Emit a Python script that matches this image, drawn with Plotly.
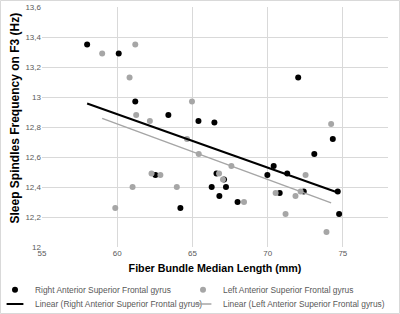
import numpy as np
import plotly.graph_objects as go

# Right Anterior Superior Frontal gyrus
right_x = [58.0, 60.1, 61.2, 63.4, 65.4, 66.46, 72.03, 62.54, 64.2, 74.33, 73.1, 70.4,
           69.98, 71.3, 66.6, 67.1, 66.28, 67.23, 66.79, 68.0, 70.8, 72.4, 74.66, 74.75]
right_y = [13.35, 13.29, 12.97, 12.88, 12.84, 12.83, 13.13, 12.48, 12.26, 12.72, 12.62, 12.54,
           12.48, 12.49, 12.49, 12.45, 12.40, 12.40, 12.34, 12.30, 12.36, 12.37, 12.37, 12.22]

# Left Anterior Superior Frontal gyrus
left_x = [59.0, 61.2, 60.82, 64.97, 61.26, 62.17, 64.64, 65.42, 62.28, 62.87, 61.02, 63.96,
          59.87, 74.22, 67.59, 66.77, 67.03, 72.52, 70.53, 72.19, 71.85, 68.43, 71.19, 73.91]
left_y = [13.29, 13.35, 13.13, 12.97, 12.88, 12.84, 12.72, 12.62, 12.49, 12.48, 12.40, 12.40,
          12.26, 12.82, 12.54, 12.49, 12.45, 12.48, 12.36, 12.37, 12.34, 12.30, 12.22, 12.10]

x_ticks = [55, 60, 65, 70, 75]
y_ticks = [12, 12.2, 12.4, 12.6, 12.8, 13, 13.2, 13.4, 13.6]

BLACK = "#000000"
GRAY = "#a6a6a6"


def fit_line(xs, ys):
    m, b = np.polyfit(xs, ys, 1)
    x0, x1 = min(xs), max(xs)
    return [x0, x1], [m * x0 + b, m * x1 + b]


rlx, rly = fit_line(right_x, right_y)
llx, lly = fit_line(left_x, left_y)

fig = go.Figure()
fig.add_trace(go.Scatter(x=right_x, y=right_y, mode="markers",
                         marker=dict(color=BLACK, size=6),
                         name="Right Anterior Superior Frontal gyrus", legend="legend"))
fig.add_trace(go.Scatter(x=left_x, y=left_y, mode="markers",
                         marker=dict(color=GRAY, size=6),
                         name="Left Anterior Superior Frontal gyrus", legend="legend2"))
fig.add_trace(go.Scatter(x=rlx, y=rly, mode="lines",
                         line=dict(color=BLACK, width=2),
                         name="Linear (Right Anterior Superior Frontal gyrus)",
                         legendgroup="rl", showlegend=False))
fig.add_trace(go.Scatter(x=llx, y=lly, mode="lines",
                         line=dict(color=GRAY, width=1.5),
                         name="Linear (Left Anterior Superior Frontal gyrus)",
                         legendgroup="ll", showlegend=False))
# legend entries for the trend lines (short line symbols)
fig.add_trace(go.Scatter(x=[None], y=[None], mode="markers",
                         marker=dict(symbol="line-ew", size=12, color=BLACK,
                                     line=dict(color=BLACK, width=2)),
                         name="Linear (Right Anterior Superior Frontal gyrus)",
                         legendgroup="rl", legend="legend3"))
fig.add_trace(go.Scatter(x=[None], y=[None], mode="markers",
                         marker=dict(symbol="line-ew", size=12, color=GRAY,
                                     line=dict(color=GRAY, width=1.5)),
                         name="Linear (Left Anterior Superior Frontal gyrus)",
                         legendgroup="ll", legend="legend4"))

W, H = 400, 314
ml, mr, mt, mb = 42, 12, 7, 67
pw, ph = W - ml - mr, H - mt - mb

leg_common = dict(orientation="v", xanchor="left", yanchor="top", itemwidth=30,
                  font=dict(size=8.4, color="#595959"), tracegroupgap=0,
                  bgcolor="rgba(0,0,0,0)", borderwidth=0)
col1_x = (-5 - ml) / pw
col2_x = (183 - ml) / pw
row1_y = -0.118
row2_y = -0.177

fig.update_layout(
    width=W, height=H,
    margin=dict(l=ml, r=mr, t=mt, b=mb, autoexpand=False),
    paper_bgcolor="white", plot_bgcolor="white",
    font=dict(family="Arial, Liberation Sans, sans-serif", color="#595959", size=8),
    separators=",.",
    showlegend=True,
    legend=dict(x=col1_x, y=row1_y, **leg_common),
    legend2=dict(x=col2_x, y=row1_y, **leg_common),
    legend3=dict(x=col1_x, y=row2_y, **leg_common),
    legend4=dict(x=col2_x, y=row2_y, **leg_common),
    xaxis=dict(range=[55, 78], tickvals=x_ticks, showgrid=True, gridcolor="#d9d9d9",
               gridwidth=1, zeroline=False, showline=False, ticks="",
               tickfont=dict(size=8, color="#595959"),
               title=dict(text="<b>Fiber Bundle Median Length (mm)</b>",
                          font=dict(size=10.7, color="#000000"), standoff=7)),
    yaxis=dict(range=[12, 13.6], tickvals=y_ticks, showgrid=True, gridcolor="#d9d9d9",
               gridwidth=1, zeroline=False, showline=False, ticks="",
               tickfont=dict(size=8, color="#595959")),
    annotations=[dict(text="<b>Sleep Spindles Frequency on F3 (Hz)</b>",
                      xref="paper", yref="paper", x=(14 - ml) / pw, y=(247 - 118.5) / ph,
                      xanchor="center", yanchor="middle", textangle=-90, showarrow=False,
                      font=dict(size=12, color="#000000"))],
)

# outer chart border
fig.add_shape(type="rect", xref="paper", yref="paper",
              x0=(-ml + 0.5) / pw, x1=(W - ml - 0.5) / pw,
              y0=(-mb + 0.5) / ph, y1=(H - mb - 0.5) / ph,
              line=dict(color="#d9d9d9", width=1), fillcolor="rgba(0,0,0,0)")

fig.write_html("out.html", config={"displayModeBar": False},
               post_script="document.body.style.margin='0';")
